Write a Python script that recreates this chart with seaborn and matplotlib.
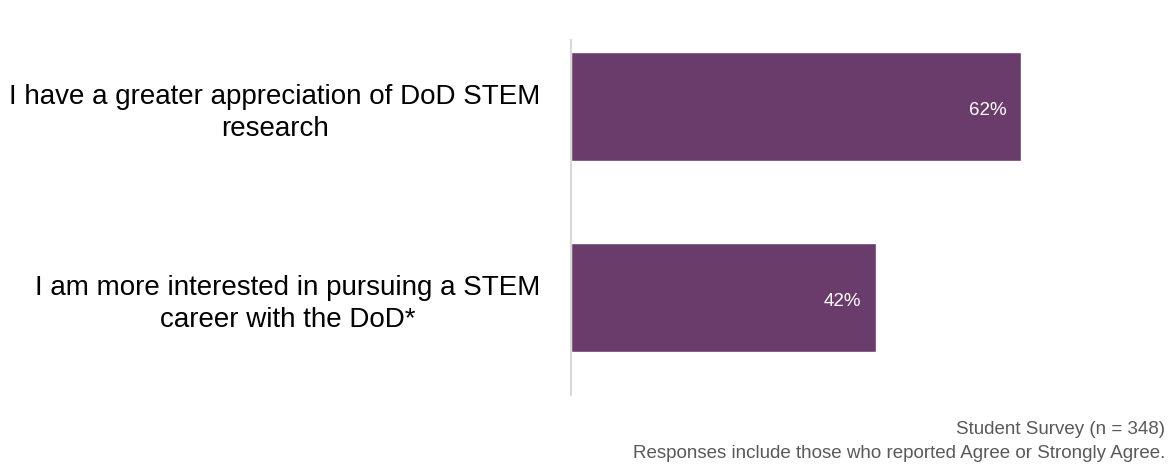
import matplotlib
matplotlib.use("Agg")
import matplotlib.pyplot as plt
import seaborn as sns
import pandas as pd

categories = ["I have a greater appreciation of DoD STEM\nresearch",
              "I am more interested in pursuing a STEM\ncareer with the DoD*"]
values = [0.62, 0.42]
value_labels = ["62%", "42%"]
footer_lines = ["Student Survey (n = 348)",
                "Responses include those who reported Agree or Strongly Agree."]

sns.set_theme(style="white")
plt.rcParams['font.family'] = ['Liberation Sans', 'DejaVu Sans']

df = pd.DataFrame({"cat": categories, "val": values})

fig = plt.figure(figsize=(11.74, 4.66), dpi=100)
ax = fig.add_axes([571/1174, 1 - 395/466, (1152 - 571)/1174, (395 - 40)/466])

sns.barplot(data=df, y="cat", x="val", color="#693C6C", saturation=1,
            width=0.57, orient="h", ax=ax)
ax.set_xlim(0, 0.8)
ax.set_ylim(1.51, -0.35)

for i, (v, lab) in enumerate(zip(values, value_labels)):
    ax.text(v - 0.02, i + 0.02, lab, ha="right", va="center", color="white",
            fontsize=13.5)

ax.set_xlabel("")
ax.set_ylabel("")
ax.set_xticks([])
for s in ["top", "right", "bottom"]:
    ax.spines[s].set_visible(False)
ax.spines["left"].set_color("#D9D9D9")
ax.spines["left"].set_linewidth(1.5)
ax.tick_params(axis="y", length=0, pad=22)
for t in ax.get_yticklabels():
    t.set_fontsize(20)
    t.set_color("black")
    t.set_multialignment("center")
    t.set_linespacing(1.3)

fig.text(1165/1174, 1 - 429/466, footer_lines[0], ha="right", va="center",
         fontsize=13.5, color="#595959")
fig.text(1165/1174, 1 - 453/466, footer_lines[1], ha="right", va="center",
         fontsize=13.5, color="#595959")

fig.savefig("out.png", dpi=100, facecolor="white")
